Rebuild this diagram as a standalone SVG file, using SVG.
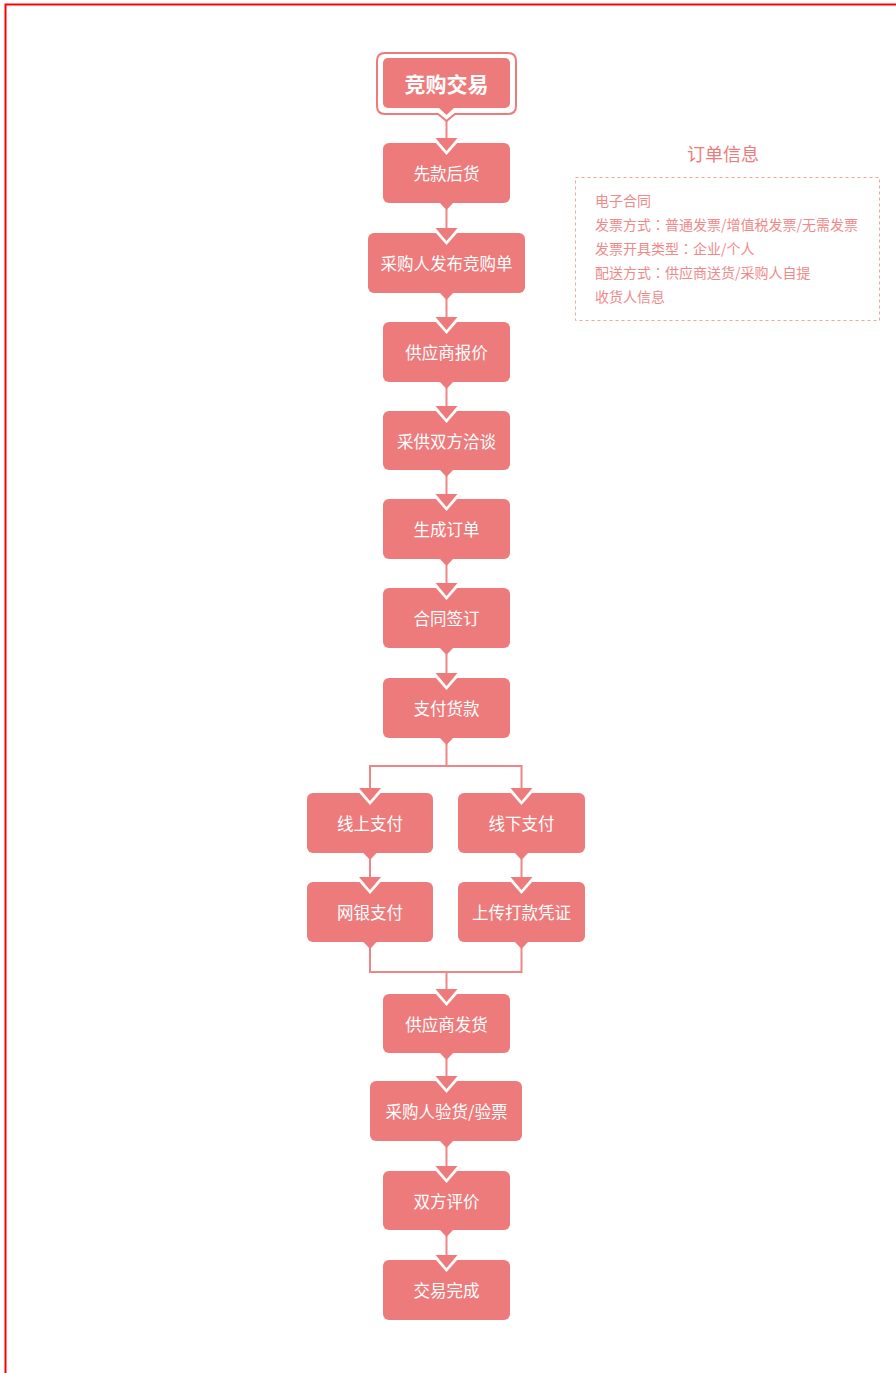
<svg xmlns="http://www.w3.org/2000/svg" width="896" height="1373" viewBox="0 0 896 1373">
<defs>
<style>
.box{fill:#EE7B7B;}
.t{font-family:"Noto Sans CJK SC","Noto Sans",sans-serif;font-size:16.5px;fill:#FFFFFF;text-anchor:middle;dominant-baseline:central;}
.tb{font-family:"Noto Sans CJK SC","Noto Sans",sans-serif;font-size:21px;font-weight:bold;fill:#FFFFFF;text-anchor:middle;dominant-baseline:central;}
.ln{fill:none;stroke:#F08585;stroke-width:2;}
.info{font-family:"Noto Sans CJK SC","Noto Sans",sans-serif;font-size:14px;fill:#F08A8A;}
.c{font-family:"Noto Sans CJK TC","Noto Sans CJK SC",sans-serif;}
.ttl{font-family:"Noto Sans CJK SC","Noto Sans",sans-serif;font-size:18px;fill:#EE7B7B;text-anchor:middle;dominant-baseline:central;}
</style>
<g id="arr"><polygon points="-15,-3 15,-3 0,14" fill="#FFFFFF"/><polygon points="-11,-3 11,-3 0,10" fill="#EE7B7B"/></g>
<polygon id="tab" points="-7.5,-1 7.5,-1 0,7" fill="#EE7B7B"/>
</defs>
<rect width="896" height="1373" fill="#FFFFFF"/>
<path d="M5.5,1373 V4.5 H896" fill="none" stroke="#FF0000" stroke-width="2"/>

<g id="connectors">
<path class="ln" d="M446.5,121 V139"/>
<path class="ln" d="M446.5,209 V228"/>
<path class="ln" d="M446.5,299 V317"/>
<path class="ln" d="M446.5,388 V406"/>
<path class="ln" d="M446.5,476 V494"/>
<path class="ln" d="M446.5,565 V583"/>
<path class="ln" d="M446.5,654 V673"/>
<path class="ln" d="M446.5,744 V766 M370,788 V766 H521.5 V788"/>
<path class="ln" d="M370,859 V877 M521.5,859 V877"/>
<path class="ln" d="M370,948 V972 H521.5 V948 M446.5,972 V989"/>
<path class="ln" d="M446.5,1059 V1076"/>
<path class="ln" d="M446.5,1147 V1166"/>
<path class="ln" d="M446.5,1236 V1255"/>
</g>

<g id="n0">
<path d="M385,53 H508 Q516,53 516,61 V106 Q516,114 508,114 H455 L446.5,121 L438,114 H385 Q377,114 377,106 V61 Q377,53 385,53 Z" fill="#FFFFFF" stroke="#EE7B7B" stroke-width="2"/>
<rect class="box" x="383" y="58" width="127" height="50" rx="5"/>
<polygon points="438,107 455,107 446.5,115" fill="#EE7B7B"/>
<text class="tb" x="446.5" y="83">竞购交易</text>
</g>

<g id="n1"><rect class="box" x="383" y="143" width="127" height="60" rx="6"/><use href="#arr" x="446.5" y="141"/><use href="#tab" x="446.5" y="203"/><text class="t" x="446.5" y="173">先款后货</text></g>
<g id="n2"><rect class="box" x="368" y="233" width="157" height="60" rx="6"/><use href="#arr" x="446.5" y="231"/><use href="#tab" x="446.5" y="293"/><text class="t" x="446.5" y="263">采购人发布竞购单</text></g>
<g id="n3"><rect class="box" x="383" y="322" width="127" height="60" rx="6"/><use href="#arr" x="446.5" y="320"/><use href="#tab" x="446.5" y="382"/><text class="t" x="446.5" y="352">供应商报价</text></g>
<g id="n4"><rect class="box" x="383" y="411" width="127" height="59" rx="6"/><use href="#arr" x="446.5" y="409"/><use href="#tab" x="446.5" y="470"/><text class="t" x="446.5" y="440.5">采供双方洽谈</text></g>
<g id="n5"><rect class="box" x="383" y="499" width="127" height="60" rx="6"/><use href="#arr" x="446.5" y="497"/><use href="#tab" x="446.5" y="559"/><text class="t" x="446.5" y="529">生成订单</text></g>
<g id="n6"><rect class="box" x="383" y="588" width="127" height="60" rx="6"/><use href="#arr" x="446.5" y="586"/><use href="#tab" x="446.5" y="648"/><text class="t" x="446.5" y="618">合同签订</text></g>
<g id="n7"><rect class="box" x="383" y="678" width="127" height="60" rx="6"/><use href="#arr" x="446.5" y="676"/><use href="#tab" x="446.5" y="738"/><text class="t" x="446.5" y="708">支付货款</text></g>
<g id="n8"><rect class="box" x="307" y="793" width="126" height="60" rx="6"/><use href="#arr" x="370" y="791"/><use href="#tab" x="370" y="853"/><text class="t" x="370" y="823">线上支付</text></g>
<g id="n9"><rect class="box" x="458" y="793" width="127" height="60" rx="6"/><use href="#arr" x="521.5" y="791"/><use href="#tab" x="521.5" y="853"/><text class="t" x="521.5" y="823">线下支付</text></g>
<g id="n10"><rect class="box" x="307" y="882" width="126" height="60" rx="6"/><use href="#arr" x="370" y="880"/><use href="#tab" x="370" y="942"/><text class="t" x="370" y="912">网银支付</text></g>
<g id="n11"><rect class="box" x="458" y="882" width="127" height="60" rx="6"/><use href="#arr" x="521.5" y="880"/><use href="#tab" x="521.5" y="942"/><text class="t" x="521.5" y="912">上传打款凭证</text></g>
<g id="n12"><rect class="box" x="383" y="994" width="127" height="59" rx="6"/><use href="#arr" x="446.5" y="992"/><use href="#tab" x="446.5" y="1053"/><text class="t" x="446.5" y="1023.5">供应商发货</text></g>
<g id="n13"><rect class="box" x="370" y="1081" width="152" height="60" rx="6"/><use href="#arr" x="446.5" y="1079"/><use href="#tab" x="446.5" y="1141"/><text class="t" x="446.5" y="1111">采购人验货/验票</text></g>
<g id="n14"><rect class="box" x="383" y="1171" width="127" height="59" rx="6"/><use href="#arr" x="446.5" y="1169"/><use href="#tab" x="446.5" y="1230"/><text class="t" x="446.5" y="1200.5">双方评价</text></g>
<g id="n15"><rect class="box" x="383" y="1260" width="127" height="60" rx="6"/><use href="#arr" x="446.5" y="1258"/><text class="t" x="446.5" y="1290">交易完成</text></g>

<g id="info">
<text class="ttl" x="723" y="153">订单信息</text>
<rect x="575.5" y="177.5" width="304" height="143" fill="none" stroke="#F4A3A3" stroke-width="1" stroke-dasharray="3,3"/>
<text class="info" x="595" y="206">电子合同</text>
<text class="info" x="595" y="230">发票方式<tspan class="c">：</tspan>普通发票/增值税发票/无需发票</text>
<text class="info" x="595" y="254">发票开具类型<tspan class="c">：</tspan>企业/个人</text>
<text class="info" x="595" y="278">配送方式<tspan class="c">：</tspan>供应商送货/采购人自提</text>
<text class="info" x="595" y="302">收货人信息</text>
</g>
</svg>
